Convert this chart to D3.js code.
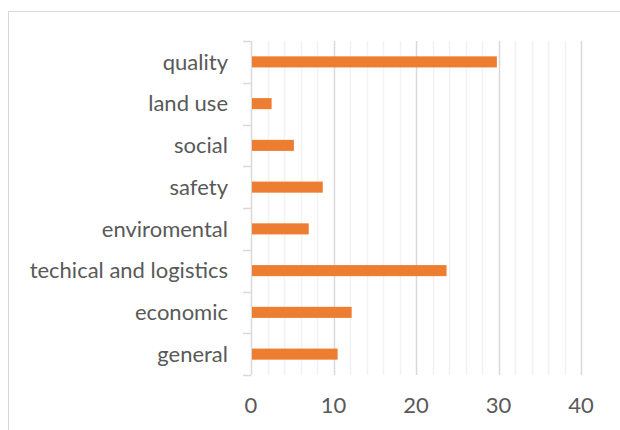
<!DOCTYPE html>
<html>
<head>
<meta charset="utf-8">
<script src="https://cdn.jsdelivr.net/npm/d3@7"></script>
<style>
  body { margin: 0; background: #fff; }
  text { font-family: Lato, "Open Sans", sans-serif; fill: #595959; }
</style>
</head>
<body>
<div id="container"></div>
<script>
// data
let categories = ["quality", "land use", "social", "safety", "enviromental", "techical and logistics", "economic", "general"];
let values = [29.8, 2.5, 5.2, 8.7, 7.0, 23.7, 12.2, 10.5];
let majorTicks = [0, 10, 20, 30, 40];
let minorTicks = d3.range(0, 41, 2);

let viz = d3.select("#container")
  .append("svg")
    .attr("width", 620)
    .attr("height", 430)
;

// outer frame (only left and top show inside the window)
viz.append("rect")
  .attr("x", 8.5)
  .attr("y", 11.5)
  .attr("width", 640)
  .attr("height", 440)
  .attr("fill", "none")
  .attr("stroke", "#d9d9d9")
;

let x = d3.scaleLinear().domain([0, 40]).range([251, 581]);
let y = d3.scaleBand().domain(categories).range([41, 375])
  .paddingInner(0.735).paddingOuter(0.3675);
let step = y.step();

// <---------gridlines---------->
viz.append("g")
  .selectAll("line").data(minorTicks.filter(d => d % 10 != 0)).enter()
  .append("line")
    .attr("x1", d => Math.round(x(d)) + 0.5)
    .attr("x2", d => Math.round(x(d)) + 0.5)
    .attr("y1", 41)
    .attr("y2", 375)
    .attr("stroke", "#f2f2f2")
    .attr("stroke-width", 1.5)
;

viz.append("g")
  .selectAll("line").data(majorTicks.slice(1)).enter()
  .append("line")
    .attr("x1", d => Math.round(x(d)) + 0.5)
    .attr("x2", d => Math.round(x(d)) + 0.5)
    .attr("y1", 41)
    .attr("y2", 375)
    .attr("stroke", "#d9d9d9")
    .attr("stroke-width", 1.5)
;

// <---------category axis---------->
let yAxis = viz.append("g");
yAxis.append("line")
  .attr("x1", x(0) + 0.5).attr("x2", x(0) + 0.5)
  .attr("y1", 41).attr("y2", 375)
  .attr("stroke", "#d9d9d9")
  .attr("stroke-width", 1.5)
;

let bounds = d3.range(categories.length + 1).map(i => 41 + i * step);
yAxis.selectAll(".tk").data(bounds).enter()
  .append("line")
    .attr("class", "tk")
    .attr("x1", x(0) - 8).attr("x2", x(0))
    .attr("y1", d => Math.round(d) + 0.5)
    .attr("y2", d => Math.round(d) + 0.5)
    .attr("stroke", "#d9d9d9")
    .attr("stroke-width", 1.5)
;

yAxis.selectAll("text").data(categories).enter()
  .append("text")
    .attr("x", 228)
    .attr("y", d => y(d) + y.bandwidth() / 2)
    .attr("dy", "0.35em")
    .attr("text-anchor", "end")
    .style("font-size", "22px")
    .text(d => d)
;

// <---------value axis labels---------->
viz.append("g")
  .selectAll("text").data(majorTicks).enter()
  .append("text")
    .attr("x", d => x(d))
    .attr("y", 413)
    .attr("text-anchor", "middle")
    .style("font-size", "22px")
    .text(d => d)
;

// <---------bars---------->
viz.append("g")
  .selectAll("rect").data(values).enter()
  .append("rect")
    .attr("x", x(0) + 1)
    .attr("y", (d, i) => y(categories[i]))
    .attr("width", d => x(d) - x(0) - 1)
    .attr("height", y.bandwidth())
    .attr("fill", "#ed7d31")
;
</script>
</body>
</html>
